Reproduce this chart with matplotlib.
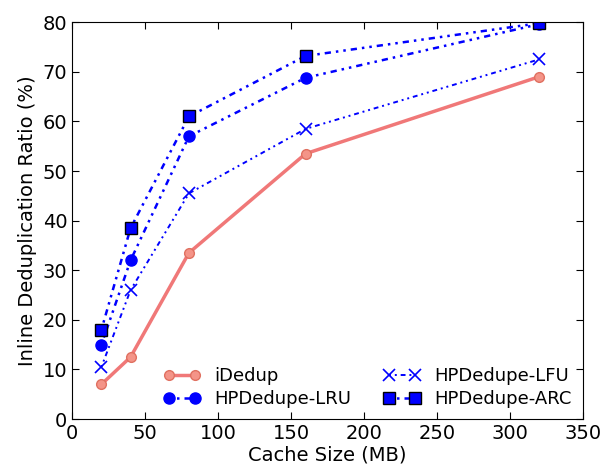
import matplotlib
matplotlib.use("Agg")
import matplotlib.pyplot as plt

# cache sizes (MB)
cache_size = [20, 40, 80, 160, 320]

# inline deduplication ratio (%)
idedup = [7, 12.5, 33.5, 53.5, 69]
hp_lru = [15, 32, 57, 68.8, 79.6]
hp_lfu = [10.5, 26, 45.5, 58.5, 72.5]
hp_arc = [18, 38.5, 61, 73.2, 79.8]

fig = plt.figure(figsize=(6.07, 4.73), dpi=100)
ax = fig.add_axes([0.119, 0.114, 0.841, 0.839])

dash = (1, 2, 1, 2, 2.5, 2)

ax.plot(cache_size, idedup, '-', color='#f07878', lw=2.5, marker='o',
        ms=7, mfc='#f49488', mec='#e07060', label='iDedup')
ax.plot(cache_size, hp_lru, color='blue', lw=1.8, dashes=dash,
        marker='o', ms=8, mfc='blue', mec='blue', label='HPDedupe-LRU')
ax.plot(cache_size, hp_lfu, color='blue', lw=1.4, dashes=dash,
        marker='x', ms=8, mew=1.2, label='HPDedupe-LFU')
ax.plot(cache_size, hp_arc, color='blue', lw=1.8, dashes=dash,
        marker='s', ms=8.5, mfc='blue', mec='black', label='HPDedupe-ARC')

ax.set_xlim(0, 350)
ax.set_ylim(0, 80)
ax.set_xticks(range(0, 351, 50))
ax.set_yticks(range(0, 81, 10))
ax.tick_params(direction='in', top=True, right=True, labelsize=14, length=5)
ax.set_xlabel('Cache Size (MB)', fontsize=14, labelpad=2)
ax.set_ylabel('Inline Deduplication Ratio (%)', fontsize=14, labelpad=4)

ax.legend(ncol=2, loc='lower right', frameon=False, fontsize=13, numpoints=2,
          handlelength=2, columnspacing=1.8, handletextpad=0.8,
          borderaxespad=0.2, labelspacing=0.3)

fig.savefig('out.png', dpi=100)
